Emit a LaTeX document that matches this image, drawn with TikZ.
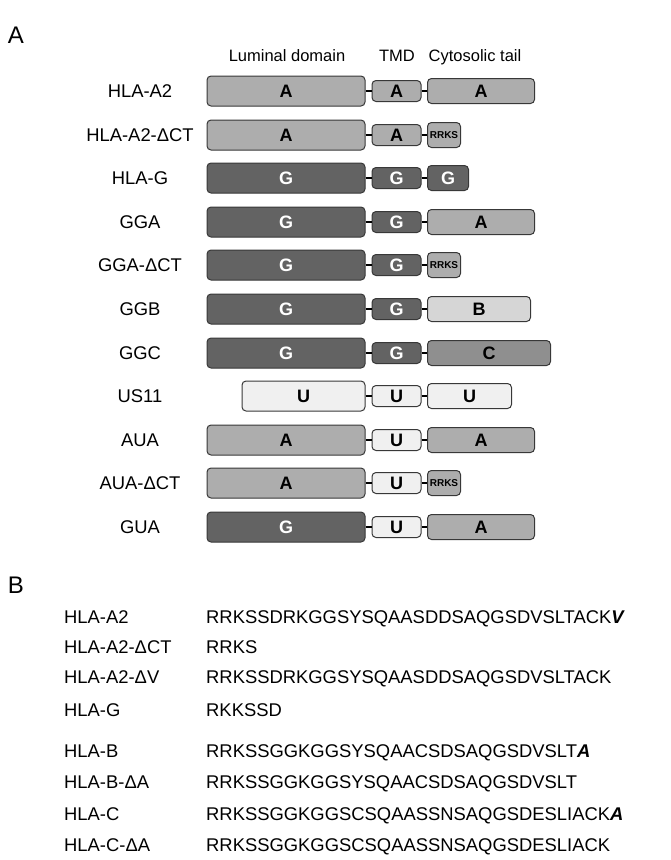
\documentclass[tikz,border=0pt]{standalone}
\usepackage{fontspec}
\setmainfont{Liberation Sans}
\definecolor{colA}{gray}{0.68}
\definecolor{colG}{gray}{0.39}
\definecolor{colB}{gray}{0.84}
\definecolor{colC}{gray}{0.56}
\definecolor{colU}{gray}{0.94}
\definecolor{edge}{gray}{0.22}
\tikzset{
	box/.style = {draw = edge, line width = 1pt, rounded corners = 4pt, inner sep = 0pt, text height = 12.9pt, text depth = 0pt, font = \fontsize{18}{20}\selectfont\bfseries},
	lum/.style = {box, minimum width = 158pt, minimum height = 30pt},
	tmd/.style = {box, minimum width = 49pt, minimum height = 21pt},
	tail/.style = {box, anchor = west, minimum height = 25pt},
	rrks/.style = {tail, minimum width = 33pt, text height = 7.2pt, font = \fontsize{10}{12}\selectfont\bfseries},
	dark/.style = {fill = colG, text = white},
	link/.style = {line width = 2pt},
	lbl/.style = {inner sep = 0pt, text height = 13.2pt, text depth = 0pt, font = \fontsize{18.4}{22}\selectfont},
	head/.style = {inner sep = 0pt, text height = 11.8pt, text depth = 0pt, font = \fontsize{16.5}{19}\selectfont},
	panel/.style = {inner sep = 0pt, font = \fontsize{24}{28}\selectfont},
}

\begin{document}
\begin{tikzpicture}[x = 1pt, y = -1pt]
				\useasboundingbox (0,0) rectangle (671,860);
				\node (pa)[panel] at (16,35){A};
				\node (lumhead)[head] at (287,56){Luminal domain};
				\node (tmdhead)[head] at (397,56){TMD};
				\node (cythead)[head] at (475,56){Cytosolic tail};
				%
				\node (h1)[lbl] at (140,91){HLA-A2};
				\node (l1)[lum, fill = colA] at (286,91){A};
				\node (t1)[tmd, fill = colA] at (396.5,91){A};
				\node (c1)[tail, fill = colA, minimum width = 107pt] at (427,91){A};
				\draw[link] (l1) -- (t1) -- (c1);
				%
				\node (h2)[lbl] at (140,135){HLA-A2-ΔCT};
				\node (l2)[lum, fill = colA] at (286,135){A};
				\node (t2)[tmd, fill = colA] at (396.5,135){A};
				\node (c2)[rrks, fill = colA] at (427,135){RRKS};
				\draw[link] (l2) -- (t2) -- (c2);
				%
				\node (h3)[lbl] at (140,178){HLA-G};
				\node (l3)[lum, dark] at (286,178){G};
				\node (t3)[tmd, dark] at (396.5,178){G};
				\node (c3)[tail, dark, minimum width = 41pt] at (427,178){G};
				\draw[link] (l3) -- (t3) -- (c3);
				%
				\node (h4)[lbl] at (140,222){GGA};
				\node (l4)[lum, dark] at (286,222){G};
				\node (t4)[tmd, dark] at (396.5,222){G};
				\node (c4)[tail, fill = colA, minimum width = 107pt] at (427,222){A};
				\draw[link] (l4) -- (t4) -- (c4);
				%
				\node (h5)[lbl] at (140,265){GGA-ΔCT};
				\node (l5)[lum, dark] at (286,265){G};
				\node (t5)[tmd, dark] at (396.5,265){G};
				\node (c5)[rrks, fill = colA] at (427,265){RRKS};
				\draw[link] (l5) -- (t5) -- (c5);
				%
				\node (h6)[lbl] at (140,309){GGB};
				\node (l6)[lum, dark] at (286,309){G};
				\node (t6)[tmd, dark] at (396.5,309){G};
				\node (c6)[tail, fill = colB, minimum width = 103pt] at (427,309){B};
				\draw[link] (l6) -- (t6) -- (c6);
				%
				\node (h7)[lbl] at (140,353){GGC};
				\node (l7)[lum, dark] at (286,353){G};
				\node (t7)[tmd, dark] at (396.5,353){G};
				\node (c7)[tail, fill = colC, minimum width = 123pt] at (427,353){C};
				\draw[link] (l7) -- (t7) -- (c7);
				%
				\node (h8)[lbl] at (140,396){US11};
				\node (l8)[lum, fill = colU, minimum width = 123pt] at (303.5,396){U};
				\node (t8)[tmd, fill = colU] at (396.5,396){U};
				\node (c8)[tail, fill = colU, minimum width = 84pt] at (427,396){U};
				\draw[link] (l8) -- (t8) -- (c8);
				%
				\node (h9)[lbl] at (140,440){AUA};
				\node (l9)[lum, fill = colA] at (286,440){A};
				\node (t9)[tmd, fill = colU] at (396.5,440){U};
				\node (c9)[tail, fill = colA, minimum width = 107pt] at (427,440){A};
				\draw[link] (l9) -- (t9) -- (c9);
				%
				\node (h10)[lbl] at (140,483){AUA-ΔCT};
				\node (l10)[lum, fill = colA] at (286,483){A};
				\node (t10)[tmd, fill = colU] at (396.5,483){U};
				\node (c10)[rrks, fill = colA] at (427,483){RRKS};
				\draw[link] (l10) -- (t10) -- (c10);
				%
				\node (h11)[lbl] at (140,527){GUA};
				\node (l11)[lum, dark] at (286,527){G};
				\node (t11)[tmd, fill = colU] at (396.5,527){U};
				\node (c11)[tail, fill = colA, minimum width = 107pt] at (427,527){A};
				\draw[link] (l11) -- (t11) -- (c11);
				%
				\node (pb)[panel] at (16,585){B};
				\node (n1)[lbl, anchor = west] at (64,617){HLA-A2};
				\node (s1)[lbl, anchor = west] at (206,617){RRKSSDRKGGSYSQAASDDSAQGSDVSLTACK\textbf{\textit{V}}};
				\node (n2)[lbl, anchor = west] at (64,647){HLA-A2-ΔCT};
				\node (s2)[lbl, anchor = west] at (206,647){RRKS};
				\node (n3)[lbl, anchor = west] at (64,677){HLA-A2-ΔV};
				\node (s3)[lbl, anchor = west] at (206,677){RRKSSDRKGGSYSQAASDDSAQGSDVSLTACK};
				\node (n4)[lbl, anchor = west] at (64,710){HLA-G};
				\node (s4)[lbl, anchor = west] at (206,710){RKKSSD};
				\node (n5)[lbl, anchor = west] at (64,751){HLA-B};
				\node (s5)[lbl, anchor = west] at (206,751){RRKSSGGKGGSYSQAACSDSAQGSDVSLT\textbf{\textit{A}}};
				\node (n6)[lbl, anchor = west] at (64,782){HLA-B-ΔA};
				\node (s6)[lbl, anchor = west] at (206,782){RRKSSGGKGGSYSQAACSDSAQGSDVSLT};
				\node (n7)[lbl, anchor = west] at (64,814){HLA-C};
				\node (s7)[lbl, anchor = west] at (206,814){RRKSSGGKGGSCSQAASSNSAQGSDESLIACK\textbf{\textit{A}}};
				\node (n8)[lbl, anchor = west] at (64,845){HLA-C-ΔA};
				\node (s8)[lbl, anchor = west] at (206,845){RRKSSGGKGGSCSQAASSNSAQGSDESLIACK};
			\end{tikzpicture}
\end{document}
